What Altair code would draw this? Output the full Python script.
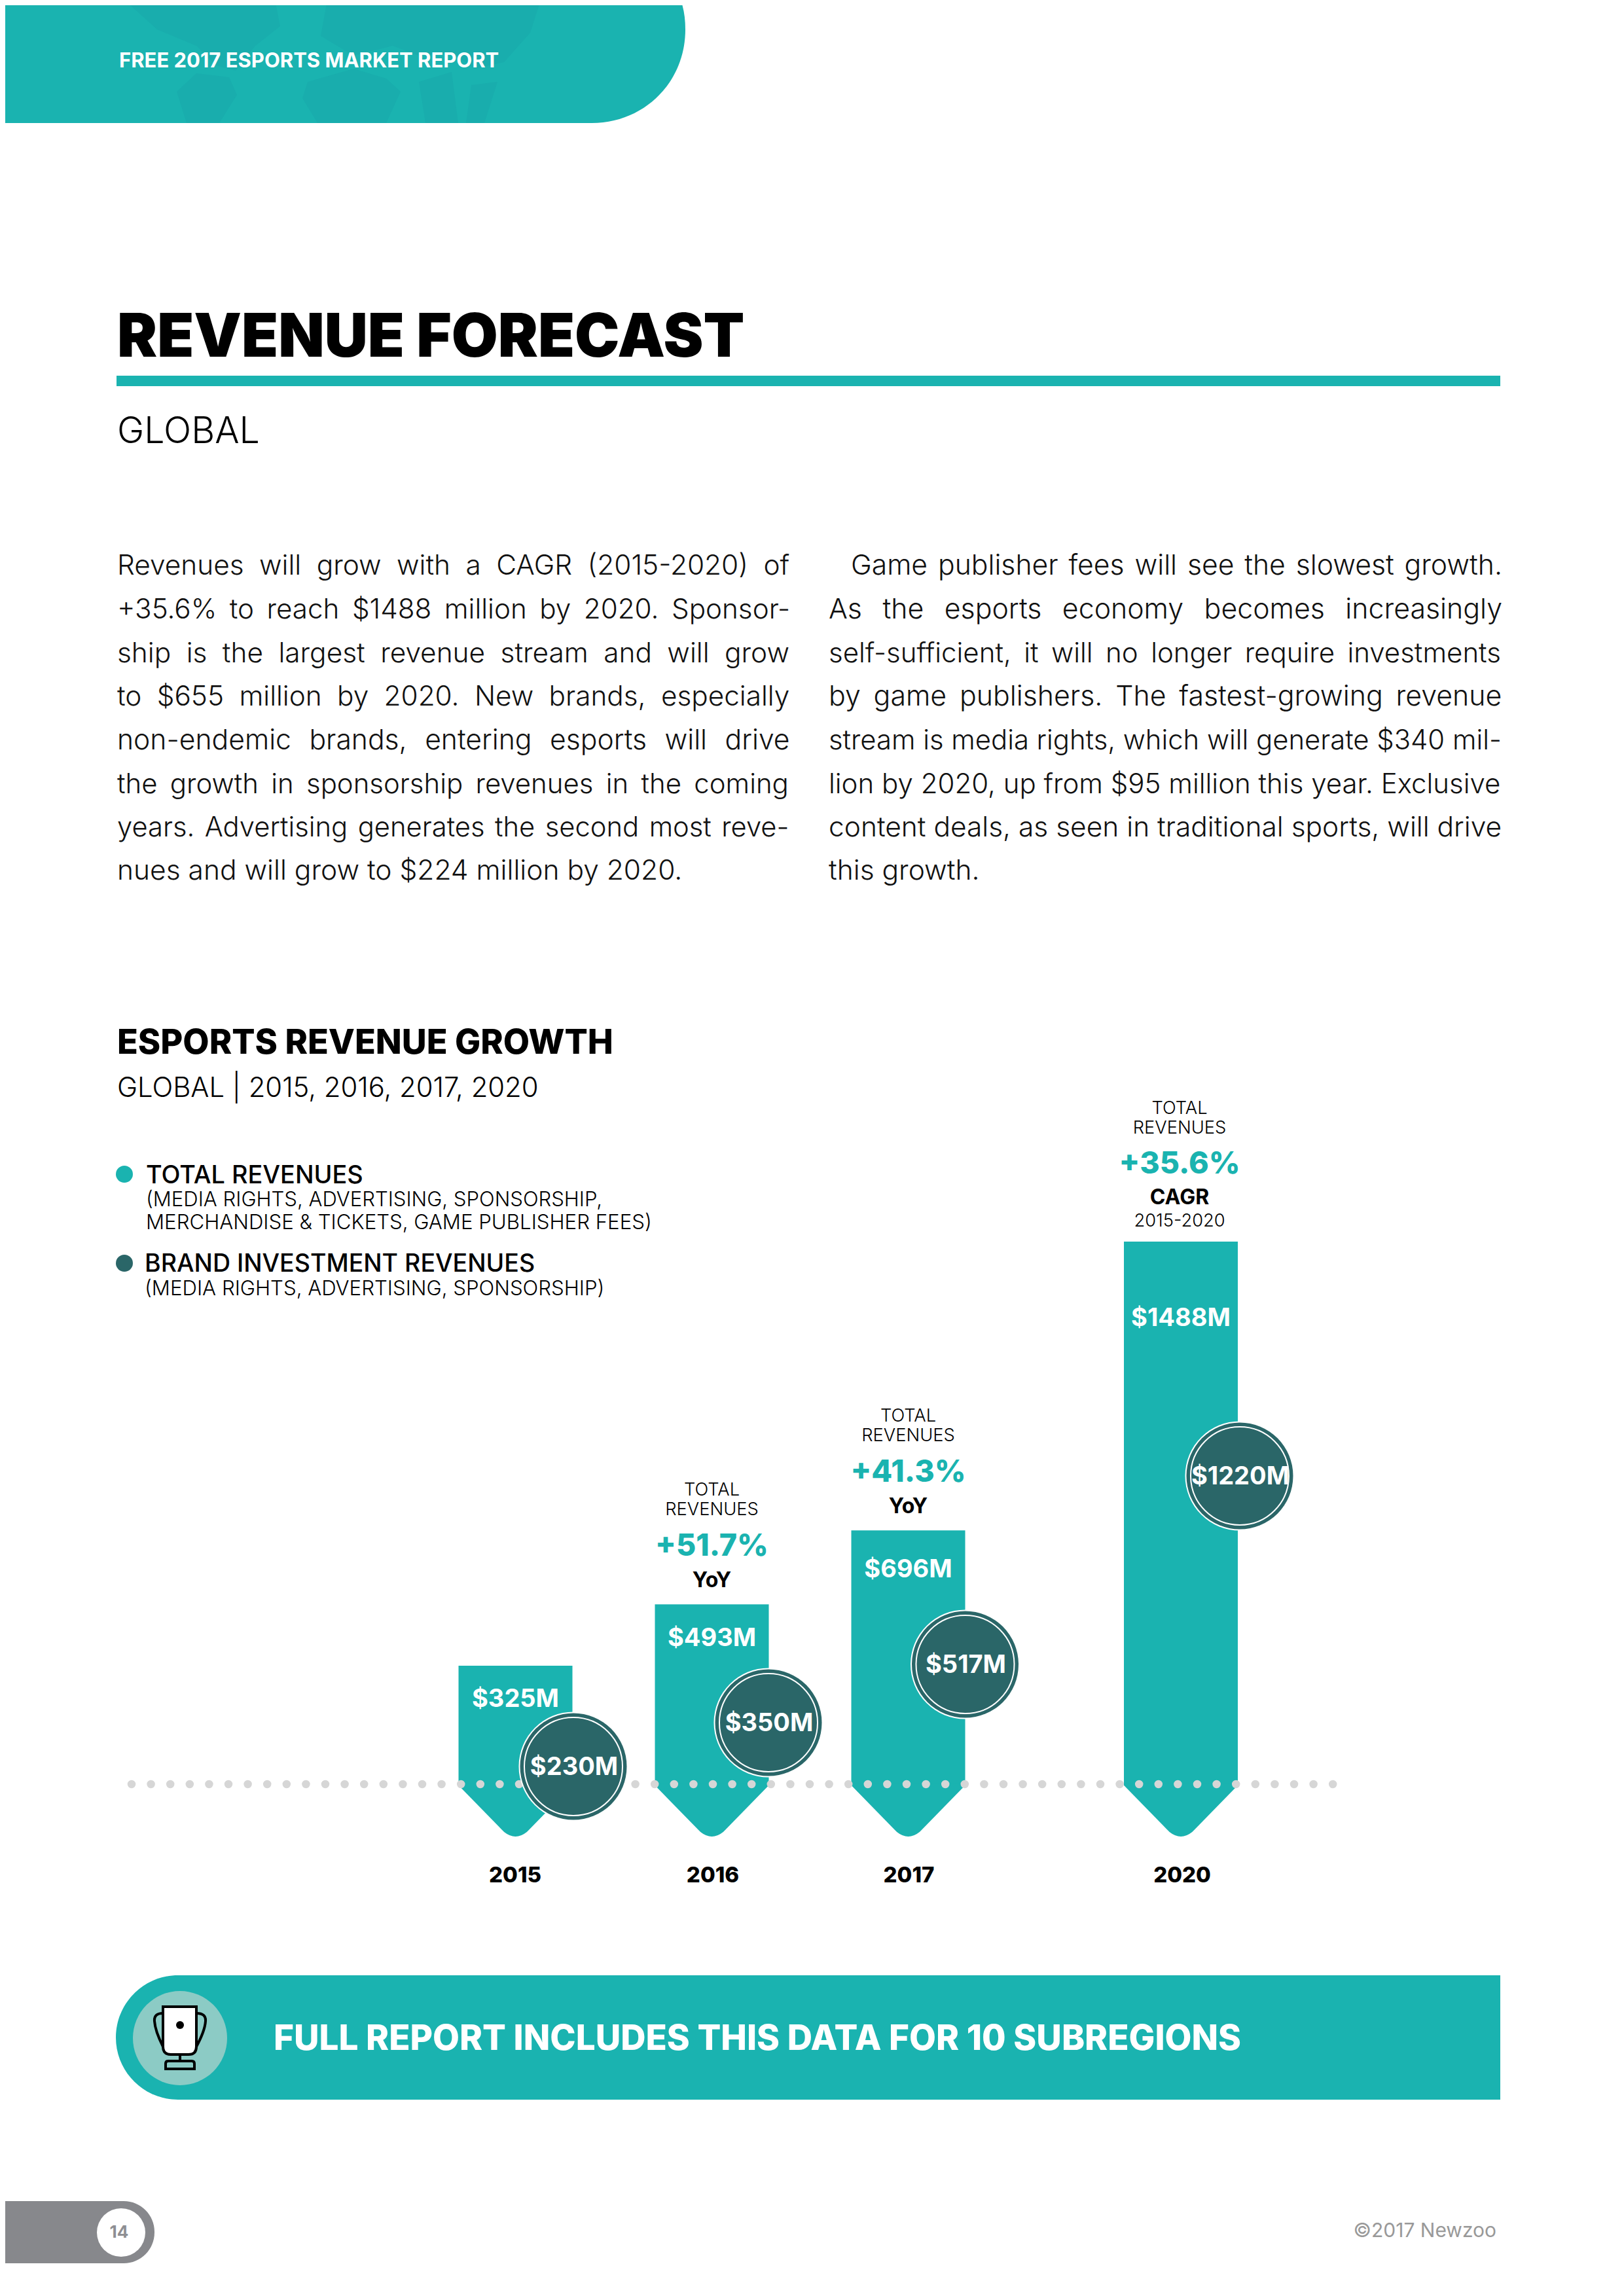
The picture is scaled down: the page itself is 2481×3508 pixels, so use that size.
import altair as alt
import pandas as pd

years = [2015, 2016, 2017, 2020]
total = [325, 493, 696, 1488]
brand = [230, 350, 517, 1220]
total_labels = ["$325M", "$493M", "$696M", "$1488M"]
brand_labels = ["$230M", "$350M", "$517M", "$1220M"]
growth_years = [2016, 2017]
growth_total = [493, 696]
growth_pct = ["+51.7%", "+41.3%"]

header_text = ["FREE 2017 ESPORTS MARKET REPORT"]
title = "REVENUE FORECAST"
subtitle = "GLOBAL"
col1 = ["Revenues will grow with a CAGR (2015-2020) of",
        "+35.6% to reach $1488 million by 2020. Sponsor-",
        "ship is the largest revenue stream and will grow",
        "to $655 million by 2020. New brands, especially",
        "non-endemic brands, entering esports will drive",
        "the growth in sponsorship revenues in the coming",
        "years. Advertising generates the second most reve-",
        "nues and will grow to $224 million by 2020."]
col2 = ["Game publisher fees will see the slowest growth.",
        "As the esports economy becomes increasingly",
        "self-sufficient, it will no longer require investments",
        "by game publishers. The fastest-growing revenue",
        "stream is media rights, which will generate $340 mil-",
        "lion by 2020, up from $95 million this year. Exclusive",
        "content deals, as seen in traditional sports, will drive",
        "this growth."]
# extra word spacing and type size of the justified lines
gap1 = [12.8, 8, 12.6, 12.4, 18.3, 7.3, 2.4, 0]
gap2 = [6, 22.6, 7.8, 9.5, 0, 0, 1.3, 0]
size1 = [42.37, 42.18, 42.37, 42.28, 42.65, 41.9, 41.73, 42.5]
size2 = [42.67, 42.84, 42, 42.84, 41.8, 42, 42.46, 42.5]

TEAL = "#1AB3B0"
DARK = "#2A6668"
FONT = "Inter"
OFF = 8
THIN = 8.4
HAIR = 4.2


def X(v):
    return alt.value(v - OFF)


one = alt.Data(values=[{"a": 1}])


def rect(x0, x1, y0, y1, color, **kw):
    return alt.Chart(one).mark_rect(color=color, **kw).encode(
        x=X(x0), x2=X(x1), y=X(y0), y2=X(y1))


def txt(s, x, y, size, color="#000000", weight=400, align="left"):
    return alt.Chart(alt.Data(values=[{"t": s}])).mark_text(
        font=FONT, fontSize=size, fontWeight=weight, color=color, align=align,
        baseline="middle").encode(x=X(x), y=X(y), text="t:N")


def dot(x, y, r, color):
    return alt.Chart(one).mark_circle(color=color, opacity=1, size=4 * r * r).encode(x=X(x), y=X(y))


def spaced(s, px):
    t = int(px // THIN)
    h = int(round((px - t * THIN) / HAIR))
    return s.replace(" ", " " + "\u2009" * t + "\u200a" * h)


df = pd.DataFrame({"year": years, "total": total, "brand": brand, "zero": [0] * 4,
                   "tl": total_labels, "bl": brand_labels})
gf = pd.DataFrame({"year": growth_years, "total": growth_total, "pct": growth_pct})
g20 = pd.DataFrame({"year": [2020], "total": [1488]})

xs = alt.Scale(domain=years, range=[787.5 - OFF, 1087.5 - OFF, 1387.5 - OFF, 1804 - OFF])
xenc = alt.X("year:Q", scale=xs, axis=None)
ys = alt.Scale(domain=[0, 1488], range=[2726 - OFF, 1897 - OFF])
yenc = alt.Y("total:Q", scale=ys, axis=None)

base = alt.Chart(df)
bars = base.mark_rule(color=TEAL, strokeWidth=174).encode(
    x=xenc, y=yenc, y2=alt.Y2("zero:Q"))
tips = base.mark_point(
    shape="M-.5,-.01 L.5,-.01 L.5,.01 L.1,.42 Q0,.5 -.1,.42 L-.5,.01 Z",
    size=4 * 174 * 174, filled=True, color=TEAL, opacity=1).encode(
    x=xenc, y=alt.Y("zero:Q", scale=ys, axis=None))

dots = alt.Chart(one).mark_rule(color="#D6D6D6", strokeWidth=12.5, strokeCap="round",
                                strokeDash=[0.01, 29.59]).encode(
    x=X(201), x2=X(2037), y=X(2726))
tlabel = base.mark_text(font=FONT, fontSize=38, fontWeight=700, color="white").encode(
    x=xenc,
    y=alt.Y("total:Q", axis=None, scale=alt.Scale(domain=total, range=[2597 - OFF, 2504 - OFF, 2399 - OFF, 2015 - OFF])),
    text="tl:N")

bxs = alt.Scale(domain=brand, range=[876 - OFF, 1174 - OFF, 1474.5 - OFF, 1894 - OFF])
bys = alt.Scale(domain=brand, range=[2699 - OFF, 2632 - OFF, 2543 - OFF, 2255 - OFF])
bx = alt.X("brand:Q", scale=bxs, axis=None)
by = alt.Y("brand:Q", scale=bys, axis=None)
halo = base.mark_circle(color="white", opacity=1, size=4 * 83.5 * 83.5).encode(x=bx, y=by)
disc = base.mark_circle(color=DARK, opacity=1, size=4 * 81.5 * 81.5).encode(x=bx, y=by)
ring = base.mark_point(color="white", strokeWidth=2, opacity=1, filled=False, size=4 * 75 * 75).encode(x=bx, y=by)
blabel = base.mark_text(font=FONT, fontSize=38, fontWeight=700, color="white", dx=1, dy=2).encode(x=bx, y=by, text="bl:N")

ylabels = base.mark_text(font=FONT, fontSize=33, fontWeight=800, color="black").encode(
    x=alt.X("year:Q", axis=None, scale=alt.Scale(domain=years, range=[787 - OFF, 1089 - OFF, 1388.5 - OFF, 1806 - OFF])),
    y=alt.value(2866 - OFF), text="year:N")


def above(frame, field=None, label=None, dy=0, dx=0, size=27.3, weight=300, color="black"):
    c = alt.Chart(frame).mark_text(font=FONT, fontSize=size, fontWeight=weight, color=color, dy=dy, dx=dx, baseline="middle")
    enc = dict(x=xenc, y=yenc)
    if field:
        enc["text"] = field
    else:
        enc["text"] = alt.value(label)
    return c.encode(**enc)


ann = [
    above(gf, label="TOTAL", dy=-174), above(gf, label="REVENUES", dy=-144),
    above(gf, field="pct:N", dy=-88, size=46.5, weight=800, color=TEAL),
    above(gf, label="YoY", dy=-36, size=32, weight=700),
    above(g20, label="TOTAL", dy=-203.5, dx=-2), above(g20, label="REVENUES", dy=-173, dx=-2),
    above(g20, label="+35.6%", dy=-118, dx=-2, size=46.5, weight=800, color=TEAL),
    above(g20, label="CAGR", dy=-67, dx=-2, size=32, weight=700),
    above(g20, label="2015-2020", dy=-31, dx=-2),
]

HEADER = "M0,0 L1040,0 Q1047,20 1047,45 C1047,125 985,188 904,188 L0,188 Z"
MAP = ("M190,0 L420,0 L428,40 L390,70 L360,108 L330,100 L300,70 L240,45 Z "
       "M300,112 L350,118 L362,145 L335,188 L285,188 L270,140 Z "
       "M500,0 L826,0 L810,50 L770,95 L725,105 L690,80 L640,85 L600,70 L540,85 L490,55 Z "
       "M470,125 L540,105 L590,120 L612,140 L590,188 L485,188 L462,150 Z "
       "M640,125 L690,110 L700,188 L650,188 Z "
       "M720,130 L760,125 L740,188 L712,188 Z")
page = [
    alt.Chart(one).mark_point(shape=HEADER, size=4, filled=True, color=TEAL, opacity=1).encode(x=X(0), y=X(0)),
    alt.Chart(one).mark_point(shape=MAP, size=4, filled=True, color="#19ADAD", opacity=1).encode(x=X(0), y=X(0)),
    txt(header_text[0], 182, 94, 31, "white", 700),
    txt(title, 179, 518, 91.6, "black", 900),
    rect(178, 2292, 574, 590, TEAL),
    txt(subtitle, 179, 660, 55.5, "black", 300),
]
ly = [865, 931.5, 998.6, 1065, 1132, 1199, 1265, 1331]
for s, g, z, y in zip(col1, gap1, size1, ly):
    page.append(txt(spaced(s, g), 179, y, z, "#111111", 300))
for i, (s, g, z, y) in enumerate(zip(col2, gap2, size2, ly)):
    page.append(txt(spaced(s, g), 1300 if i == 0 else 1266, y, z, "#111111", 300))
page += [
    txt("ESPORTS REVENUE GROWTH", 179, 1594, 52.2, "black", 800),
    txt("GLOBAL | 2015, 2016, 2017, 2020", 179, 1663, 41.8, "black", 300),
    dot(190, 1794, 13, TEAL),
    txt("TOTAL REVENUES", 223, 1797, 37.8, "black", 500),
    txt("(MEDIA RIGHTS, ADVERTISING, SPONSORSHIP,", 223, 1834, 31.1, "black", 300),
    txt("MERCHANDISE & TICKETS, GAME PUBLISHER FEES)", 223, 1869, 31.2, "black", 300),
    dot(190, 1930, 13, DARK),
    txt("BRAND INVESTMENT REVENUES", 221, 1932, 37.5, "black", 500),
    txt("(MEDIA RIGHTS, ADVERTISING, SPONSORSHIP)", 221, 1970, 31.2, "black", 300),
]
footer = [
    rect(177, 2292, 3018, 3208, TEAL, cornerRadiusTopLeft=95, cornerRadiusBottomLeft=95),
    dot(275, 3114, 72, "#8CCBC5"),
    alt.Chart(one).mark_point(
        shape="M-26,-47 L25,-47 L25,14 Q25,26 13,26 L-14,26 Q-26,26 -26,14 Z",
        size=4, filled=True, fill="white", stroke="black", strokeWidth=4, opacity=1).encode(x=X(275), y=X(3113)),
    alt.Chart(one).mark_point(
        shape="M-26,-37 Q-40,-37 -39,-25 Q-38,-10 -26,14 M25,-37 Q40,-37 39,-25 Q38,-10 25,14 M0,26 L0,36 M-22,48 L-22,40 Q-22,36 -18,36 L18,36 Q22,36 22,40 L22,48 Z",
        size=4, filled=False, stroke="black", strokeWidth=4, opacity=1).encode(x=X(275), y=X(3113)),
    dot(275, 3094, 6, "black"),
    txt("FULL REPORT INCLUDES THIS DATA FOR 10 SUBREGIONS", 418, 3116, 53, "white", 800),
    rect(0, 236, 3363, 3458, "#87888C", cornerRadiusTopRight=47, cornerRadiusBottomRight=47),
    dot(185, 3411, 37, "white"),
    txt("14", 182, 3411, 26, "#8E8F93", 700, "center"),
    txt("©2017 Newzoo", 2286, 3409, 30, "#999999", 400, "right"),
]

chart = alt.layer(*page, bars, tips, dots, tlabel, *ann, halo, disc, ring, blabel, ylabels, *footer).resolve_scale(
    x="independent", y="independent"
).properties(width=2465, height=3492, padding=0,
             autosize=alt.AutoSizeParams(type="none")).configure_view(stroke=None)

chart.save("out.html", embed_options={"renderer": "svg", "actions": False})
